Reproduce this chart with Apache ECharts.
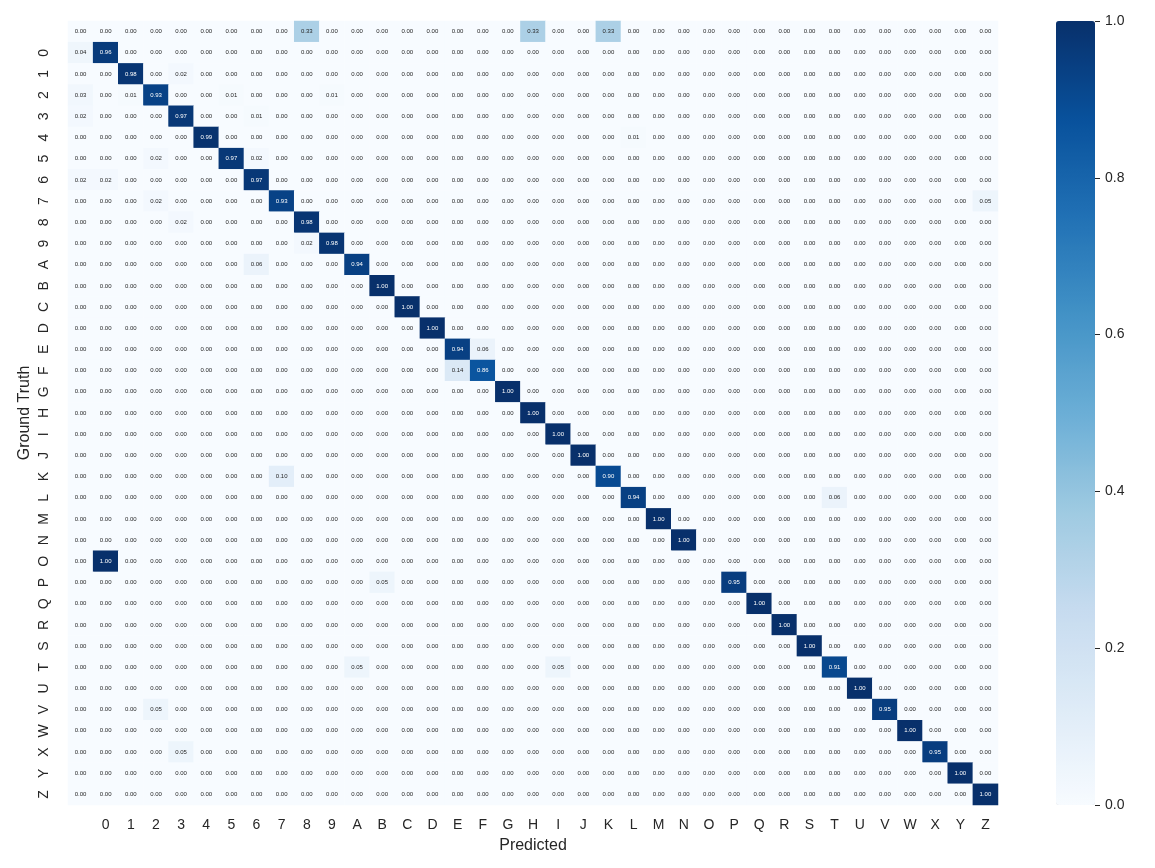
<!DOCTYPE html>
<html>
<head>
<meta charset="utf-8">
<title>Confusion matrix</title>
<script src="https://cdn.jsdelivr.net/npm/echarts@6/dist/echarts.min.js"></script>
<style>
  html, body { margin: 0; padding: 0; background: #fff; }
  #chart { width: 1155px; height: 868px; }
</style>
</head>
<body>
<div id="chart"></div>
<script>
// classes in matrix order, the first one has no tick label
const classes = ['', '0', '1', '2', '3', '4', '5', '6', '7', '8', '9',
  'A', 'B', 'C', 'D', 'E', 'F', 'G', 'H', 'I', 'J', 'K', 'L', 'M',
  'N', 'O', 'P', 'Q', 'R', 'S', 'T', 'U', 'V', 'W', 'X', 'Y', 'Z'];

// diagonal (truth == predicted), same order as classes
const diagonal = [0.00, 0.96, 0.98, 0.93, 0.97, 0.99, 0.97, 0.97, 0.93, 0.98, 0.98,
  0.94, 1.00, 1.00, 1.00, 0.94, 0.86, 1.00, 1.00, 1.00, 1.00, 0.90, 0.94, 1.00,
  1.00, 0.00, 0.95, 1.00, 1.00, 1.00, 0.91, 1.00, 0.95, 1.00, 0.95, 1.00, 1.00];

// other non-zero cells: [ground truth, predicted, value]
const offDiagonal = [
  ['', '8', 0.33], ['', 'H', 0.33], ['', 'K', 0.33],
  ['0', '', 0.04],
  ['1', '3', 0.02],
  ['2', '', 0.03], ['2', '1', 0.01], ['2', '5', 0.01], ['2', '9', 0.01],
  ['3', '', 0.02], ['3', '6', 0.01],
  ['4', 'L', 0.01],
  ['5', '2', 0.02], ['5', '6', 0.02],
  ['6', '', 0.02], ['6', '0', 0.02],
  ['7', '2', 0.02], ['7', 'Z', 0.05],
  ['8', '3', 0.02],
  ['9', '8', 0.02],
  ['A', '6', 0.06],
  ['E', 'F', 0.06],
  ['F', 'E', 0.14],
  ['K', '7', 0.10],
  ['L', 'T', 0.06],
  ['O', '0', 1.00],
  ['P', 'B', 0.05],
  ['T', 'A', 0.05], ['T', 'I', 0.05],
  ['V', '2', 0.05],
  ['X', '3', 0.05]
];

// colorbar ticks
const barTicks = [0, 0.2, 0.4, 0.6, 0.8, 1.0];

// matplotlib "Blues"
const blues = ['#f7fbff', '#deebf7', '#c6dbef', '#9ecae1', '#6baed6',
  '#4292c6', '#2171b5', '#08519c', '#08306b'];

const n = classes.length;
const matrix = [];
for (let r = 0; r < n; r++) {
  const row = new Array(n).fill(0);
  row[r] = diagonal[r];
  matrix.push(row);
}
offDiagonal.forEach(([t, p, v]) => {
  matrix[classes.indexOf(t)][classes.indexOf(p)] = v;
});

const cells = [];
matrix.forEach((row, r) => {
  row.forEach((v, c) => {
    cells.push({
      value: [c, r, v],
      label: { color: v > 0.5 ? '#ffffff' : '#262626' }
    });
  });
});

const textColor = '#262626';
const font = 'Liberation Sans, Arial, sans-serif';

const chart = echarts.init(document.getElementById('chart'));
chart.setOption({
  animation: false,
  backgroundColor: '#ffffff',
  textStyle: { fontFamily: font },
  grid: [
    { left: 68, top: 21, width: 930, height: 784 },
    { left: 1056, top: 21, width: 39, height: 784 }
  ],
  xAxis: [
    {
      type: 'category',
      gridIndex: 0,
      data: classes,
      name: 'Predicted',
      nameLocation: 'middle',
      nameGap: 33,
      nameMoveOverlap: false,
      nameTextStyle: { fontSize: 16, color: textColor },
      axisLine: { show: false },
      axisTick: { show: false },
      axisLabel: { fontSize: 14, color: textColor, margin: 13, interval: 0 },
      splitLine: { show: false }
    },
    { type: 'value', gridIndex: 1, show: false, min: 0, max: 1 }
  ],
  yAxis: [
    {
      type: 'category',
      gridIndex: 0,
      data: classes,
      inverse: true,
      name: 'Ground Truth',
      nameLocation: 'middle',
      nameGap: 35,
      nameMoveOverlap: false,
      nameTextStyle: { fontSize: 16, color: textColor },
      axisLine: { show: false },
      axisTick: { show: false },
      axisLabel: { fontSize: 14, color: textColor, margin: 17, rotate: 90, interval: 0 },
      splitLine: { show: false }
    },
    {
      type: 'value',
      gridIndex: 1,
      position: 'right',
      z: 10,
      min: barTicks[0],
      max: barTicks[barTicks.length - 1],
      interval: barTicks[1] - barTicks[0],
      axisLine: { show: false, onZero: false },
      axisTick: { show: true, inside: false, length: 5, lineStyle: { color: textColor, width: 1 } },
      axisLabel: {
        fontSize: 14,
        color: textColor,
        margin: 10,
        formatter: v => v.toFixed(1)
      },
      splitLine: { show: false }
    }
  ],
  visualMap: {
    type: 'continuous',
    seriesIndex: 0,
    min: 0,
    max: 1,
    calculable: false,
    hoverLink: false,
    orient: 'vertical',
    left: 1056,
    top: 21,
    padding: 0,
    itemWidth: 39,
    itemHeight: 784,
    text: null,
    inRange: { color: blues }
  },
  series: [
    {
      type: 'heatmap',
      xAxisIndex: 0,
      yAxisIndex: 0,
      data: cells,
      itemStyle: { borderWidth: 0 },
      label: {
        show: true,
        fontSize: 6,
        formatter: p => p.value[2].toFixed(2)
      },
      emphasis: { disabled: true }
    }
  ]
});
</script>
</body>
</html>
